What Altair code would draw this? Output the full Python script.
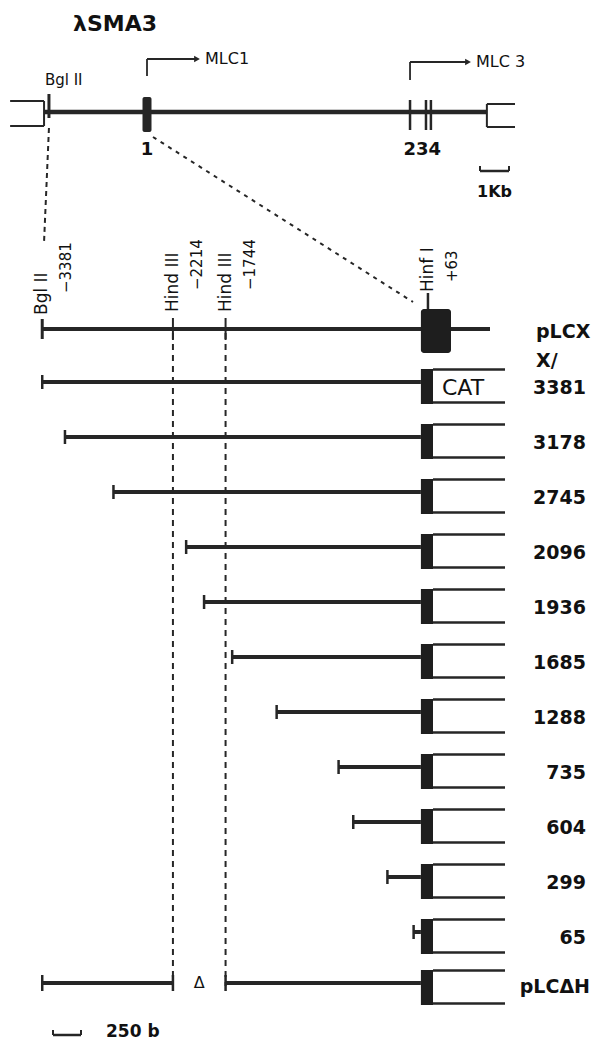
import altair as alt
import pandas as pd

# ---------------- data ----------------
clone_name = "λSMA3"
exon_kb = [0.0, 9.07, 9.62, 9.79]          # exons 1-4 (kb from the MLC1 cap site)
exon_text = ["1", "234"]
insert_kb = [-3.55, 11.72]                 # ends of the genomic insert
arm_kb = [-4.72, 12.69]                    # outer ends of the vector arms
map_bgl_kb = -3.381
promoter_names = ["MLC1", "MLC 3"]
promoter_kb = [0.0, 9.07]
kb_bar = 1.0

site_names = ["Bgl II", "Hind III", "Hind III", "Hinf I"]
site_bp = [-3381, -2214, -1744, 63]
site_text = ["\u22123381", "\u22122214", "\u22121744", "+63"]

deletion_names = ["3381", "3178", "2745", "2096", "1936", "1685", "1288", "735", "604", "299", "65"]
deletion_bp = [-3381, -3178, -2745, -2096, -1936, -1685, -1288, -735, -604, -299, -65]
bp_bar = 250

# ---------------- layout ----------------
W, H = 587, 1035
OX, OY = 8, 8
BP0_PX, PX_PER_BP = 420.9, 0.112
KB0_PX, PX_PER_KB = 147.0, 29.0
ROW0_PX, ROW_PX = 386.0, 55.0
INK = "#262626"
FONT = "DejaVu Sans"


def bp_at(px):
    return (px - BP0_PX) / PX_PER_BP


def kb_at(px):
    return (px - KB0_PX) / PX_PER_KB


def row_at(px):
    return (px - ROW0_PX) / ROW_PX


def dr(px):
    return px / ROW_PX


def dkb(px):
    return px / PX_PER_KB


def dbp(px):
    return px / PX_PER_BP


X_BP = alt.Scale(domain=[bp_at(OX), bp_at(OX + W)], nice=False, zero=False)
X_KB = alt.Scale(domain=[kb_at(OX), kb_at(OX + W)], nice=False, zero=False)
YS = alt.Scale(domain=[row_at(OY), row_at(OY + H)], nice=False, zero=False, reverse=True)


def segs(rows, scale, width, dash=None, color=INK):
    df = pd.DataFrame(rows, columns=["x", "x2", "y", "y2"])
    kw = dict(color=color, strokeWidth=width)
    if dash:
        kw["strokeDash"] = dash
    return alt.Chart(df).mark_rule(**kw).encode(
        x=alt.X("x:Q", scale=scale, axis=None),
        x2="x2:Q",
        y=alt.Y("y:Q", scale=YS, axis=None),
        y2="y2:Q",
    )


def rects(rows, scale, radius=0, color=INK):
    df = pd.DataFrame(rows, columns=["x", "x2", "y", "y2"])
    return alt.Chart(df).mark_rect(color=color, cornerRadius=radius).encode(
        x=alt.X("x:Q", scale=scale, axis=None),
        x2="x2:Q",
        y=alt.Y("y:Q", scale=YS, axis=None),
        y2="y2:Q",
    )


def texts(rows, scale, size, align="left", angle=0, weight="normal"):
    df = pd.DataFrame(rows, columns=["x", "y", "t"])
    return alt.Chart(df).mark_text(
        font=FONT, fontSize=size, align=align, angle=angle,
        fontWeight=weight, baseline="middle", color="#111111"
    ).encode(
        x=alt.X("x:Q", scale=scale, axis=None),
        y=alt.Y("y:Q", scale=YS, axis=None),
        text="t:N",
    )


layers = []

# ---------- top restriction map (kb scale) ----------
y_map = row_at(112)
layers.append(segs([(insert_kb[0], insert_kb[1], y_map, y_map)], X_KB, 4.5))
layers.append(segs([
    (arm_kb[0], insert_kb[0], row_at(101), row_at(101)),
    (arm_kb[0], insert_kb[0], row_at(126), row_at(126)),
    (insert_kb[0], insert_kb[0], row_at(101), row_at(126)),
    (insert_kb[1], arm_kb[1], row_at(104), row_at(104)),
    (insert_kb[1], arm_kb[1], row_at(127), row_at(127)),
    (insert_kb[1], insert_kb[1], row_at(104), row_at(127)),
], X_KB, 2))
layers.append(segs([(map_bgl_kb, map_bgl_kb, row_at(94), row_at(118))], X_KB, 3))
layers.append(segs([(k, k, row_at(100), row_at(130)) for k in exon_kb[1:]], X_KB, 2.5))
layers.append(rects([(exon_kb[0] - dkb(4.5), exon_kb[0] + dkb(4.5), row_at(97), row_at(132))], X_KB, radius=2))

arrow_len = [dkb(50), dkb(58)]
arrow_y = [row_at(59), row_at(62)]
arrow_base = [row_at(76), row_at(80)]
arrow_rows = []
for k, L, ya, yb in zip(promoter_kb, arrow_len, arrow_y, arrow_base):
    arrow_rows.append((k, k, yb, ya))
    arrow_rows.append((k, k + L, ya, ya))
layers.append(segs(arrow_rows, X_KB, 1.8))
heads = pd.DataFrame({"x": [k + L for k, L in zip(promoter_kb, arrow_len)], "y": arrow_y})
layers.append(alt.Chart(heads).mark_point(shape="triangle-right", filled=True, size=45, color=INK, opacity=1).encode(
    x=alt.X("x:Q", scale=X_KB, axis=None), y=alt.Y("y:Q", scale=YS, axis=None)))
layers.append(texts([(k + L + dkb(8), y, n) for k, L, y, n in zip(promoter_kb, arrow_len, arrow_y, promoter_names)], X_KB, 16))

layers.append(texts([(kb_at(73), row_at(24), clone_name)], X_KB, 22, weight="bold"))
layers.append(texts([(map_bgl_kb - dkb(4), row_at(80), "Bgl II")], X_KB, 15))
layers.append(texts([
    (exon_kb[0], row_at(150), exon_text[0]),
    (sum(exon_kb[1:]) / 3, row_at(150), exon_text[1]),
], X_KB, 18, align="center", weight="bold"))

bar0 = kb_at(480)
layers.append(segs([(bar0, bar0 + kb_bar, row_at(171), row_at(171))], X_KB, 2.5))
layers.append(segs([(bar0, bar0, row_at(166), row_at(171)), (bar0 + kb_bar, bar0 + kb_bar, row_at(166), row_at(171))], X_KB, 2))
layers.append(texts([(bar0 + kb_bar / 2, row_at(192), "1Kb")], X_KB, 16, align="center", weight="bold"))

# connectors from the map to the promoter region
layers.append(segs([(map_bgl_kb, kb_at(44), row_at(128), row_at(243))], X_KB, 2, dash=[5, 4]))
layers.append(segs([(exon_kb[0] + dkb(6), kb_at(413), row_at(137), row_at(302))], X_KB, 2, dash=[4, 5]))

# ---------- promoter constructs (bp scale) ----------
y_x = row_at(329)
layers.append(segs([(site_bp[0], bp_at(490), y_x, y_x)], X_BP, 4))
layers.append(segs([(site_bp[0], site_bp[0], y_x - dr(10), y_x + dr(10))], X_BP, 3))
layers.append(segs([(s, s, y_x - dr(11), y_x + dr(11)) for s in site_bp[1:3]], X_BP, 2))
layers.append(segs([(site_bp[3], site_bp[3], row_at(293), row_at(309))], X_BP, 2.5))
layers.append(rects([(0, bp_at(451), row_at(309), row_at(353))], X_BP, radius=3, color="#1e1e1e"))

# HindIII dashed guides
layers.append(segs([(s, s, row_at(333), row_at(986)) for s in site_bp[1:3]], X_BP, 2, dash=[6, 5]))

r_dh = row_at(987)
rows_all = list(range(len(deletion_bp))) + [r_dh]
line_rows, tick_rows, block_rows, bracket_rows = [], [], [], []
for i, s in enumerate(deletion_bp):
    yl = i - dr(4)
    line_rows.append((s, 0, yl, yl))
    tick_rows.append((s, s, yl - dr(7), yl + dr(7)))
yl = r_dh - dr(4)
line_rows.append((site_bp[0], site_bp[1], yl, yl))
line_rows.append((site_bp[2], 0, yl, yl))
for s in site_bp[:3]:
    tick_rows.append((s, s, yl - dr(8), yl + dr(8)))
for r in rows_all:
    block_rows.append((0, bp_at(433), r - dr(17), r + dr(18)))
    bracket_rows.append((bp_at(433), bp_at(505), r - dr(16.5), r - dr(16.5)))
    bracket_rows.append((bp_at(433), bp_at(505), r + dr(16.5), r + dr(16.5)))
layers.append(segs(line_rows, X_BP, 4))
layers.append(segs(tick_rows, X_BP, 2.5))
layers.append(segs(bracket_rows, X_BP, 2.5))
layers.append(rects(block_rows, X_BP, color="#1e1e1e"))

# rotated site labels
name_bottom = [315, 312, 312, 292]
num_bottom = [293, 290, 290, 282]
layers.append(texts([(s, row_at(b), n) for s, b, n in zip(site_bp, name_bottom, site_names)], X_BP, 17, angle=270))
layers.append(texts([(s + dbp(24), row_at(b), t) for s, b, t in zip(site_bp, num_bottom, site_text)], X_BP, 15, angle=270))

# row labels
layers.append(texts([(bp_at(586), i + dr(2), n) for i, n in enumerate(deletion_names)], X_BP, 19, align="right", weight="bold"))
layers.append(texts([(bp_at(536), row_at(332), "pLCX"), (bp_at(536), row_at(361), "X/")], X_BP, 19, weight="bold"))
layers.append(texts([(bp_at(590), r_dh, "pLC\u0394H")], X_BP, 19, align="right", weight="bold"))
layers.append(texts([(bp_at(463), dr(2), "CAT")], X_BP, 22, align="center"))
layers.append(texts([((site_bp[1] + site_bp[2]) / 2, row_at(983), "\u0394")], X_BP, 16, align="center"))

# 250 b scale bar
b0 = bp_at(53)
layers.append(segs([(b0, b0 + bp_bar, row_at(1035), row_at(1035))], X_BP, 2.5))
layers.append(segs([(b0, b0, row_at(1030), row_at(1035)), (b0 + bp_bar, b0 + bp_bar, row_at(1030), row_at(1035))], X_BP, 2))
layers.append(texts([(bp_at(106), row_at(1032), "250 b")], X_BP, 17, weight="bold"))

chart = alt.layer(*layers).resolve_scale(x="independent").properties(
    width=W, height=H, padding=0, autosize=alt.AutoSizeParams(type="none")
).configure_view(stroke=None)

chart.save("out.html", embed_options={"renderer": "svg", "actions": False})
